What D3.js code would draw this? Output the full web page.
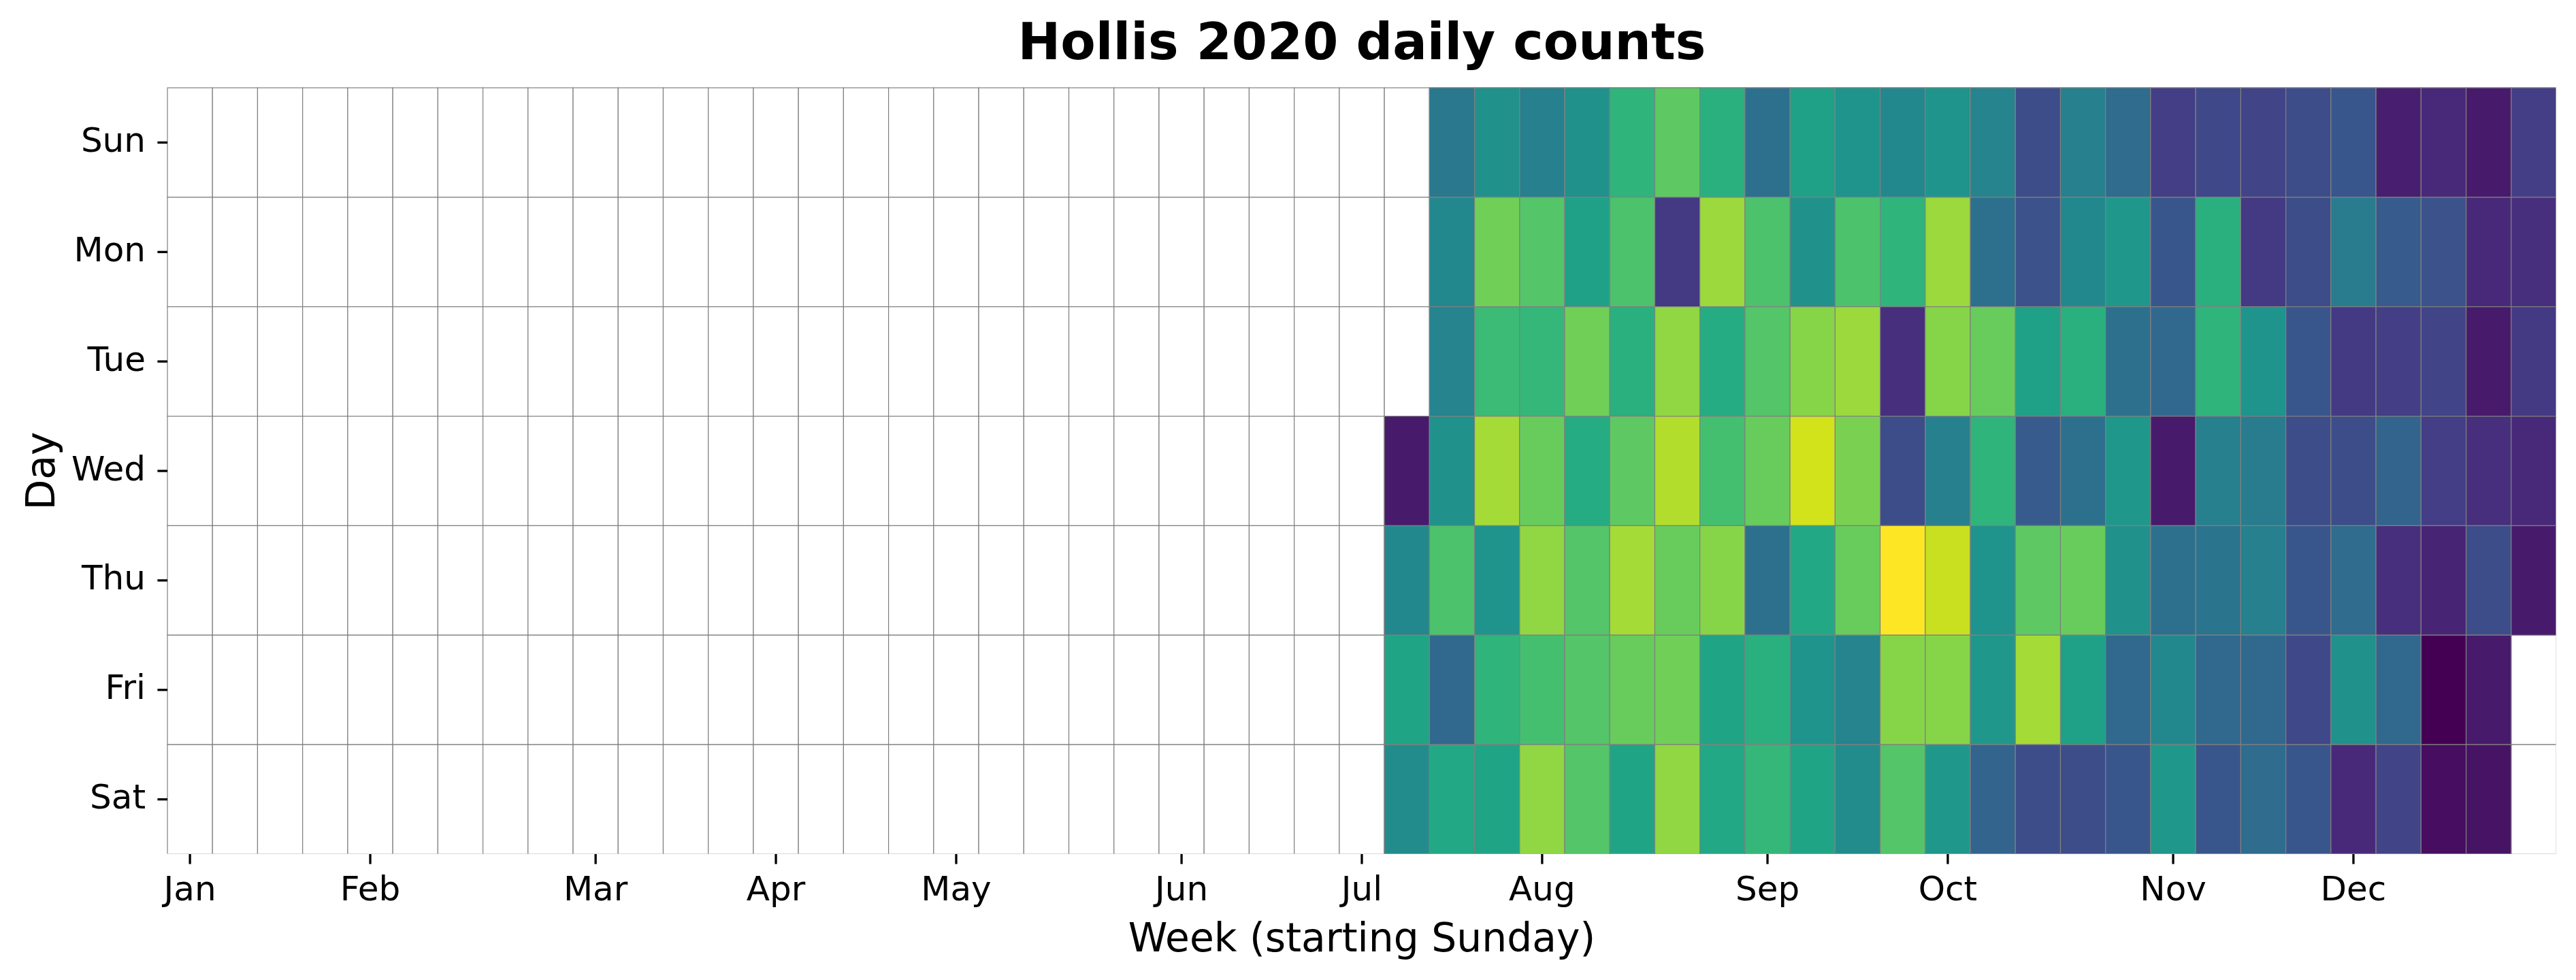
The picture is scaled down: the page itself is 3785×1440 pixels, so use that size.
<!DOCTYPE html>
<html>
<head>
<meta charset="utf-8">
<script src="https://cdn.jsdelivr.net/npm/d3@7"></script>
<style>
  html, body { margin: 0; padding: 0; background: #ffffff; }
  svg { display: block; font-family: "DejaVu Sans", sans-serif; }
</style>
</head>
<body>
<svg id="chart" width="3785" height="1440"></svg>
<script>
// ---------------- data ----------------
const title = "Hollis 2020 daily counts";
const xLabel = "Week (starting Sunday)";
const yLabel = "Day";
const dayLabels = ["Sun", "Mon", "Tue", "Wed", "Thu", "Fri", "Sat"];
const weekCount = 53;                       // weeks of 2020, Sunday-based
const monthLabels = ["Jan","Feb","Mar","Apr","May","Jun","Jul","Aug","Sep","Oct","Nov","Dec"];
const monthWeeks  = [0, 4, 9, 13, 17, 22, 26, 30, 35, 39, 44, 48];   // week containing the 1st
const dataWeeks = [27,28,29,30,31,32,33,34,35,36,37,38,39,40,41,42,43,44,45,46,47,48,49,50,51,52];

// daily counts per weekday, one value per week in dataWeeks (null = no data)
const sunCounts = [null,29,35,31,35,44,50,43,27,39,36,33,36,32,19,31,26,16,18,17,19,21,10,12, 9,16];
const monCounts = [null,33,52,49,39,48,15,56,48,35,48,44,56,27,20,33,37,21,43,15,19,30,22,20,12,13];
const tueCounts = [null,32,46,45,52,43,55,42,49,54,56,13,54,51,39,43,27,25,44,36,21,15,16,17, 9,15];
const wedCounts = [ 9,35,57,51,42,50,58,47,51,61,53,19,31,44,22,27,37, 9,31,30,19,19,24,16,13,12];
const thuCounts = [33,48,36,55,49,57,51,54,27,41,51,65,60,36,50,51,35,27,28,31,21,26,13,11,19, 9];
const friCounts = [40,25,44,47,49,51,52,40,43,36,32,54,54,37,57,39,25,33,25,25,18,35,25, 5, 9,null];
const satCounts = [34,41,40,55,49,40,55,41,45,40,34,49,37,24,19,19,21,37,21,26,21,12,17, 7, 8,null];

// ---------------- layout ----------------
const W = 3785, H = 1440;
const plot = { left: 246, right: 3756, top: 129, bottom: 1255 };

const svg = d3.select("#chart");
svg.append("rect").attr("width", W).attr("height", H).attr("fill", "#ffffff");

svg.append("defs").append("clipPath").attr("id", "plotclip")
  .append("rect")
  .attr("x", plot.left - 3).attr("y", plot.top - 3)
  .attr("width", plot.right - plot.left + 3 - 0.6)
  .attr("height", plot.bottom - plot.top + 3 - 0.6);

const x = d3.scaleBand().domain(d3.range(weekCount)).range([plot.left, plot.right]).padding(0);
const y = d3.scaleBand().domain(dayLabels).range([plot.top, plot.bottom]).padding(0);

const series = [sunCounts, monCounts, tueCounts, wedCounts, thuCounts, friCounts, satCounts];
const cells = [];
series.forEach((arr, di) => {
  arr.forEach((v, wi) => {
    if (v !== null) cells.push({ day: dayLabels[di], week: dataWeeks[wi], value: v });
  });
});

const color = d3.scaleSequential(d3.interpolateViridis)
  .domain(d3.extent(cells, d => d.value));

const plotG = svg.append("g").attr("clip-path", "url(#plotclip)");

// empty grid
const grid = [];
dayLabels.forEach(d => d3.range(weekCount).forEach(w => grid.push({ day: d, week: w })));
plotG.append("g").selectAll("rect").data(grid).join("rect")
  .attr("x", d => x(d.week))
  .attr("y", d => y(d.day))
  .attr("width", x.bandwidth())
  .attr("height", y.bandwidth())
  .attr("fill", "#ffffff")
  .attr("stroke", "#808080")
  .attr("stroke-width", 1.2);

// data cells
plotG.append("g").selectAll("rect").data(cells).join("rect")
  .attr("x", d => x(d.week))
  .attr("y", d => y(d.day))
  .attr("width", x.bandwidth())
  .attr("height", y.bandwidth())
  .attr("fill", d => color(d.value))
  .attr("stroke", "#808080")
  .attr("stroke-width", 1.2);

// ---------------- axes ----------------
const xAxis = d3.axisBottom(x)
  .tickValues(monthWeeks)
  .tickFormat((d, i) => monthLabels[i])
  .tickSize(14.6);
const gx = svg.append("g").attr("transform", `translate(0,${plot.bottom})`).call(xAxis);
gx.select(".domain").remove();
gx.selectAll(".tick line").attr("stroke", "#000").attr("stroke-width", 3.3);
gx.selectAll(".tick text")
  .attr("y", 67.7).attr("dy", null)
  .attr("fill", "#000")
  .style("font-size", "50px")
  .style("font-family", "DejaVu Sans");

const yAxis = d3.axisLeft(y).tickSize(14.6);
const gy = svg.append("g").attr("transform", `translate(${plot.left},0)`).call(yAxis);
gy.select(".domain").remove();
gy.selectAll(".tick line").attr("stroke", "#000").attr("stroke-width", 3.3);
gy.selectAll(".tick text")
  .attr("x", -32).attr("dy", "0.27em")
  .attr("fill", "#000")
  .style("font-size", "50px")
  .style("font-family", "DejaVu Sans");

// ---------------- labels ----------------
const cx = (plot.left + plot.right) / 2;
svg.append("text")
  .attr("x", cx).attr("y", 87)
  .attr("text-anchor", "middle")
  .style("font-size", "75px").style("font-weight", "bold")
  .style("font-family", "DejaVu Sans")
  .text(title);

svg.append("text")
  .attr("x", cx).attr("y", 1398)
  .attr("text-anchor", "middle")
  .style("font-size", "58.3px")
  .style("font-family", "DejaVu Sans")
  .text(xLabel);

svg.append("text")
  .attr("transform", `translate(80,${(plot.top + plot.bottom) / 2}) rotate(-90)`)
  .attr("text-anchor", "middle")
  .style("font-size", "58.3px")
  .style("font-family", "DejaVu Sans")
  .text(yLabel);
</script>
</body>
</html>
